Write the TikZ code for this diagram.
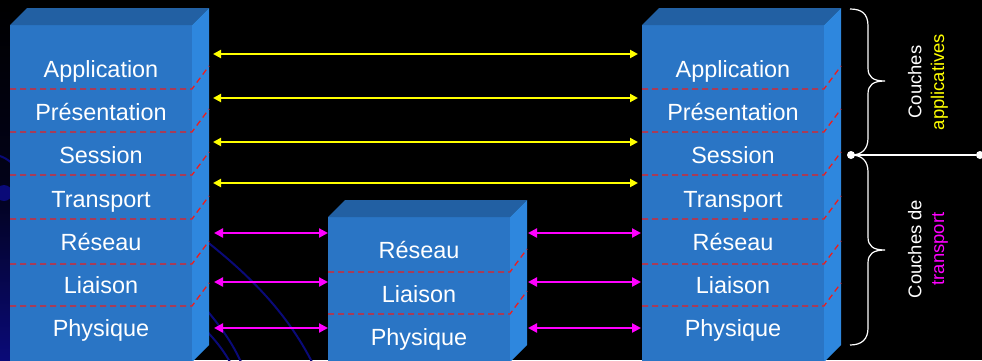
\documentclass[tikz,border=0pt]{standalone}
\usepackage{fontspec}
\setmainfont{Liberation Sans}
\usetikzlibrary{arrows.meta}

\definecolor{frontblue}{RGB}{42,117,197}
\definecolor{sideblue}{RGB}{46,135,222}
\definecolor{topblue}{RGB}{34,96,163}
\definecolor{navy}{RGB}{10,10,120}
\definecolor{layerred}{RGB}{235,30,30}
\definecolor{appyellow}{RGB}{255,255,0}
\definecolor{netmagenta}{RGB}{255,0,255}

\tikzset{
  layerlabel/.style={text=white, anchor=base, inner sep=0pt,
    font=\fontsize{23.5}{28}\selectfont},
  divider/.style={draw=layerred, line width=1.3bp, dash pattern=on 6bp off 4bp},
  applink/.style={draw=appyellow, line width=2bp,
    {Triangle[length=8bp,width=8bp]}-{Triangle[length=8bp,width=8bp]}},
  netlink/.style={draw=netmagenta, line width=2.6bp,
    {Triangle[length=9bp,width=9bp]}-{Triangle[length=9bp,width=9bp]}},
  bracepath/.style={draw=white, line width=1.2bp},
  sidetext/.style={text=white, align=center, rotate=90, inner sep=0pt,
    font=\fontsize{18.5}{23}\selectfont},
  bgcurve/.style={draw=navy, line width=2bp},
}

% one 3D block: front face, top face and right side face
% #1 = left x of the front face, #2 = top y of the front face
\newcommand\osiblock[2]{
  \fill[frontblue] (#1,#2) rectangle ({#1+182},362);
  \fill[topblue] (#1,#2) -- ({#1+17},{#2-17}) -- ({#1+199},{#2-17}) -- ({#1+182},#2) -- cycle;
  \fill[sideblue] ({#1+182},#2) -- ({#1+199},{#2-17}) -- ({#1+199},345) -- ({#1+182},362) -- cycle;
}
% dashed layer boundary across the front face and up the side face
\newcommand\osidivider[2]{
  \draw[divider] (#1,#2) -- ({#1+182},#2) -- ({#1+199},{#2-23});
}

\begin{document}
\begin{tikzpicture}[x=1bp,y=-1bp]
  \useasboundingbox (0,0) rectangle (982,360);
  \fill[black] (0,0) rectangle (982,360);
  \clip (0,0) rectangle (982,360);

  % background decoration
  \shade[top color=black, bottom color=navy, middle color=black!80!navy] (0,0) rectangle (10,360);
  \fill[navy] (4,193) circle (8);
  \draw[bgcurve] (0,156) .. controls (5,158) .. (12,163);
  \draw[bgcurve] (150,200) .. controls (230,255) and (280,300) .. (312,362);
  \draw[bgcurve] (180,280) .. controls (215,318) and (230,338) .. (241,362);
  \draw[bgcurve] (190,315) .. controls (212,335) and (222,348) .. (230,362);

  % blocks
  \osiblock{10}{25}
  \osiblock{642}{25}
  \osiblock{328}{217}

  % layer boundaries
  \foreach \y in {89,132,175,219,264,306} {
    \osidivider{10}{\y}
    \osidivider{642}{\y}
  }
  \foreach \y in {272,314} {
    \osidivider{328}{\y}
  }

  % layer names, end systems
  \foreach \n/\t/\y in {1/Application/77, 2/Présentation/120, 3/Session/163,
                        4/Transport/207, 5/Réseau/250, 6/Liaison/293, 7/Physique/336} {
    \node[layerlabel] (L\n) at (101,\y) {\t};
    \node[layerlabel] (R\n) at (733,\y) {\t};
  }
  % layer names, intermediate node
  \node[layerlabel] (M5) at (419,258) {Réseau};
  \node[layerlabel] (M6) at (419,302) {Liaison};
  \node[layerlabel] (M7) at (419,345) {Physique};

  % peer-to-peer links
  \foreach \i/\y in {1/54, 2/98, 3/142, 4/183} {
    \coordinate (yl\i) at (213,\y);
    \coordinate (yr\i) at (638,\y);
    \draw[applink] (yl\i) -- (yr\i);
  }
  \foreach \i/\y in {5/233, 6/282, 7/328} {
    \coordinate (ml\i) at (214,\y);
    \coordinate (mm\i) at (328,\y);
    \coordinate (mn\i) at (528,\y);
    \coordinate (mr\i) at (641,\y);
    \draw[netlink] (ml\i) -- (mm\i);
    \draw[netlink] (mn\i) -- (mr\i);
  }

  % braces and split line
  \coordinate (bt) at (850,9);
  \coordinate (bm) at (851,155);
  \coordinate (bb) at (850,345);
  \draw[bracepath] (bt) .. controls (862,9) and (868,14) .. (868,26)
    -- (868,68) .. controls (868,77) and (873,81) .. (885,81)
    .. controls (873,81) and (868,85) .. (868,94)
    -- (868,138) .. controls (868,149) and (862,155) .. (bm);
  \draw[bracepath] (bm) .. controls (862,155) and (868,161) .. (868,172)
    -- (868,237) .. controls (868,246) and (873,250) .. (885,250)
    .. controls (873,250) and (868,254) .. (868,263)
    -- (868,328) .. controls (868,339) and (862,345) .. (bb);
  \node[circle, fill=white, inner sep=0pt, minimum size=8bp] (dl) at (bm) {};
  \node[circle, fill=white, inner sep=0pt, minimum size=8bp] (dr) at (980,155) {};
  \draw[white, line width=2bp] (dl) -- (dr);

  % group labels
  \node[sidetext] (gapp) at (928,82) {Couches\\\textcolor{appyellow}{applicatives}};
  \node[sidetext] (gtra) at (928,249) {Couches de\\\textcolor{netmagenta}{transport}};
\end{tikzpicture}
\end{document}
